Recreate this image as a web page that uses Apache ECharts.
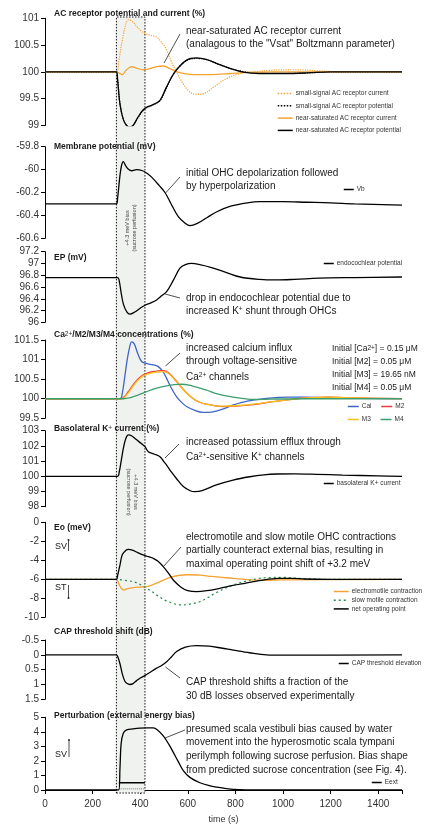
<!DOCTYPE html>
<html>
<head>
<meta charset="utf-8">
<script src="https://cdn.jsdelivr.net/npm/echarts@6/dist/echarts.min.js"></script>
<style>
html, body { margin: 0; padding: 0; background: #fff; }
#chart { width: 428px; height: 825px; }
</style>
</head>
<body>
<div id="chart"></div>
<script>
// perfusion window (s)
const perfusionWindow = [300, 420];

// panel 1 - AC receptor potential and current (%)
const tNsPot = [0, 300, 305, 315, 330, 345, 357, 370, 390, 410, 427, 450, 483, 511, 546, 595, 637, 680, 720, 780, 840, 900, 1000, 1100, 1200, 1500];
const vNsPot = [100, 100, 99.85, 99.4, 99.1, 98.99, 98.97, 99.0, 99.15, 99.28, 99.34, 99.38, 99.47, 99.72, 100.0, 100.22, 100.26, 100.23, 100.16, 100.06, 99.99, 99.97, 99.97, 99.98, 100, 100];
const vSsPot = [100, 100, 99.86, 99.41, 99.1, 98.99, 98.97, 99.0, 99.14, 99.27, 99.33, 99.38, 99.46, 99.71, 100.0, 100.21, 100.25, 100.23, 100.16, 100.06, 100.0, 99.97, 99.97, 99.98, 100, 100];
const tSsCur = [0, 300, 310, 325, 340, 350, 365, 385, 405, 420, 445, 469, 490, 510, 530, 553, 580, 610, 637, 670, 710, 760, 820, 875, 950, 1050, 1150, 1250, 1500];
const vSsCur = [100, 100, 100.2, 100.6, 100.9, 100.97, 100.95, 100.85, 100.76, 100.72, 100.68, 100.65, 100.55, 100.42, 100.2, 100.0, 99.78, 99.62, 99.58, 99.6, 99.72, 99.87, 99.97, 100.0, 100.03, 100.04, 100.02, 100, 100];
const tNsCur = [0, 300, 310, 326, 340, 364, 385, 412, 440, 470, 497, 530, 570, 625, 700, 780, 850, 950, 1500];
const vNsCur = [100, 100, 99.98, 99.95, 100.03, 100.1, 100.07, 100.04, 100.06, 100.1, 100.11, 100.05, 99.98, 99.95, 99.95, 99.97, 99.99, 100, 100];

// panel 2 - membrane potential (mV)
const tVb = [0, 300, 305, 315, 322, 329, 340, 352, 364, 385, 410, 427, 450, 480, 504, 530, 560, 590, 609, 640, 680, 720, 780, 850, 903, 1000, 1100, 1200, 1300, 1500];
const vVb = [-60.3, -60.3, -60.25, -60.05, -59.96, -59.93, -59.97, -60.0, -60.01, -60.0, -60.01, -60.03, -60.07, -60.14, -60.2, -60.3, -60.41, -60.47, -60.49, -60.47, -60.42, -60.37, -60.32, -60.29, -60.28, -60.28, -60.285, -60.29, -60.3, -60.31];

// panel 3 - EP (mV)
const tEp = [0, 305, 312, 320, 330, 345, 357, 375, 400, 420, 445, 469, 490, 511, 540, 567, 590, 616, 650, 700, 760, 820, 900, 973, 1050, 1150, 1300, 1500];
const vEp = [96.76, 96.76, 96.7, 96.5, 96.3, 96.17, 96.14, 96.17, 96.24, 96.29, 96.33, 96.38, 96.45, 96.52, 96.72, 96.92, 96.98, 97.0, 96.98, 96.93, 96.85, 96.77, 96.73, 96.72, 96.73, 96.75, 96.76, 96.77];

// panel 4 - Ca2+/M2/M3/M4 (%)
const tCai = [0, 315, 325, 335, 345, 355, 364, 375, 390, 406, 425, 441, 460, 476, 495, 511, 530, 553, 575, 595, 630, 665, 700, 750, 791, 850, 931, 1029, 1100, 1200, 1500];
const vCai = [100, 100, 100.15, 100.55, 100.98, 101.3, 101.45, 101.4, 101.15, 100.95, 100.9, 100.88, 100.86, 100.82, 100.7, 100.52, 100.28, 100.05, 99.9, 99.8, 99.7, 99.65, 99.66, 99.74, 99.84, 99.94, 100.01, 100.04, 100.04, 100.02, 100];
const tM = [0, 320, 335, 350, 370, 390, 410, 427, 450, 475, 497, 520, 553, 590, 623, 650, 679, 715, 749, 800, 875, 950, 1001, 1100, 1190, 1300, 1500];
const vM2 = [100, 100, 100.06, 100.18, 100.35, 100.5, 100.6, 100.65, 100.69, 100.71, 100.72, 100.66, 100.44, 100.18, 100.0, 99.91, 99.86, 99.82, 99.8, 99.81, 99.85, 99.92, 99.96, 100.02, 100.04, 100.02, 100];
const vM3 = [100, 100, 100.04, 100.15, 100.32, 100.47, 100.57, 100.62, 100.66, 100.68, 100.69, 100.64, 100.43, 100.17, 100.0, 99.91, 99.86, 99.82, 99.81, 99.82, 99.86, 99.92, 99.96, 100.02, 100.04, 100.02, 100];
const tM4 = [0, 330, 360, 390, 427, 470, 511, 545, 574, 610, 650, 679, 720, 791, 875, 950, 1100, 1500];
const vM4 = [100, 100, 100.03, 100.09, 100.18, 100.27, 100.33, 100.36, 100.37, 100.34, 100.27, 100.22, 100.13, 100.04, 99.98, 99.99, 100, 100];

// panel 5 - basolateral K+ current (%)
const tK = [0, 305, 312, 320, 330, 340, 350, 365, 385, 405, 420, 434, 460, 483, 500, 511, 530, 553, 580, 610, 630, 660, 720, 790, 860, 920, 973, 1050, 1141, 1250, 1400, 1500];
const vK = [100, 100, 100.3, 101.0, 101.9, 102.5, 102.72, 102.65, 102.4, 102.15, 101.95, 101.62, 101.45, 101.29, 100.95, 100.74, 100.3, 99.84, 99.35, 99.05, 98.99, 99.05, 99.43, 99.75, 99.97, 100.1, 100.15, 100.16, 100.13, 100.08, 100.03, 100.0];

// panel 6 - Eo (meV)
const tEm = [0, 300, 310, 322, 332, 345, 371, 400, 427, 455, 483, 520, 560, 600, 651, 700, 791, 860, 931, 1000, 1500];
const vEm = [-6, -6, -6.5, -7.0, -7.13, -7.0, -6.87, -6.82, -6.78, -6.55, -6.25, -5.85, -5.6, -5.52, -5.55, -5.7, -5.9, -6.05, -6.1, -6.05, -6.0];
const tSlow = [0, 300, 330, 371, 400, 427, 450, 469, 500, 540, 567, 600, 651, 679, 720, 791, 860, 931, 1000, 1092, 1200, 1500];
const vSlow = [-6, -6, -6.1, -6.25, -6.55, -6.95, -7.3, -7.65, -8.15, -8.55, -8.7, -8.65, -8.36, -8.0, -7.4, -6.6, -6.1, -5.83, -5.8, -5.95, -6, -6];
const tNet = [0, 300, 305, 315, 325, 340, 350, 370, 390, 412, 435, 455, 475, 497, 520, 539, 570, 600, 637, 680, 734, 790, 840, 900, 980, 1040, 1092, 1200, 1500];
const vNet = [-6, -6, -5.6, -4.5, -3.4, -2.95, -2.84, -2.95, -3.2, -3.44, -3.62, -3.79, -4.1, -4.67, -5.4, -6.07, -6.8, -7.2, -7.3, -7.2, -6.95, -6.65, -6.42, -6.15, -5.9, -5.9, -5.97, -6.0, -6.0];

// panel 7 - CAP threshold shift (dB)
const tCap = [0, 300, 305, 315, 325, 335, 345, 357, 370, 385, 399, 420, 445, 469, 490, 511, 530, 553, 590, 637, 690, 740, 791, 860, 931, 1000, 1500];
const vCap = [0, 0, 0.05, 0.3, 0.65, 0.88, 0.97, 1.0, 0.97, 0.87, 0.79, 0.7, 0.57, 0.45, 0.36, 0.23, 0.08, -0.11, -0.26, -0.31, -0.29, -0.23, -0.16, -0.07, 0, 0.01, 0];

// panel 8 - perturbation (external energy bias)
const tExt = [0, 310, 315, 320, 329, 343, 370, 399, 430, 455, 475, 497, 520, 539, 560, 581, 610, 651, 690, 720, 770, 820, 900, 1500];
const vExt = [0, 0, 1.5, 3.2, 3.91, 4.13, 4.2, 4.25, 4.27, 4.27, 4.1, 3.72, 3.15, 2.59, 1.95, 1.34, 0.85, 0.5, 0.3, 0.2, 0.08, 0.03, 0, 0];
const tBar = [310, 420];
const vBar = [0.5, 0.5];
const vBarLow = [0.08, 0.08];

// y axis ranges per panel: [min, max, interval]
const yRanges = [[99, 101, 0.5], [-60.6, -59.8, 0.2], [96, 97.2, 0.2], [99.5, 101.5, 0.5],
                 [98, 103, 1], [-10, 0, 2], [-0.5, 1.5, 0.5], [0, 5, 1]];
const xTicks = [0, 1500, 200];

const FONT = 'Liberation Sans, Arial, sans-serif';
const pairs = (t, v) => t.map((x, i) => [x, v[i]]);

const chart = echarts.init(document.getElementById('chart'), null, { renderer: 'canvas' });

// plot rows (top, height) in px
const rows = [[17, 776], [18.3, 107.2], [146.7, 91.6], [251.7, 70.6], [340, 78.3],
              [430.7, 76], [522.3, 95], [640, 59.3], [717.3, 73.4]];
const grid = rows.map(r => ({ left: 45, width: 357, top: r[0], height: r[1] }));

const xAxis = rows.map((r, i) => {
    const last = i === rows.length - 1;
    return {
        gridIndex: i, type: 'value', min: xTicks[0], max: xTicks[1], interval: xTicks[2],
        show: last,
        name: last ? 'time (s)' : '', nameLocation: 'middle', nameGap: 25,
        nameTextStyle: { fontSize: 9, color: '#333', fontFamily: FONT },
        axisLine: { show: true, lineStyle: { color: '#000', width: 1 } },
        axisTick: { show: true, length: 4, lineStyle: { color: '#000' } },
        axisLabel: { fontSize: 10, color: '#333', margin: 9, fontFamily: FONT,
            formatter: v => (v % 200 === 0 ? String(v) : '') },
        splitLine: { show: false }
    };
});

const yAxis = rows.map((r, i) => {
    if (i === 0) return { gridIndex: 0, type: 'value', min: 0, max: 1, show: false };
    const yr = yRanges[i - 1];
    return {
        gridIndex: i, type: 'value', min: yr[0], max: yr[1], interval: yr[2],
        inverse: i === 7,
        axisLine: { show: true, lineStyle: { color: '#000', width: 1 } },
        axisTick: { show: true, length: 4, lineStyle: { color: '#000' } },
        axisLabel: { fontSize: 10, color: '#333', margin: 6, fontFamily: FONT },
        splitLine: { show: false }
    };
});

const ORANGE = '#f5a232';
function line(name, idx, data, color, opts) {
    opts = opts || {};
    return {
        name: name, type: 'line', xAxisIndex: idx, yAxisIndex: idx,
        data: data, symbol: 'none', smooth: 0.35, z: 3,
        lineStyle: { color: color, width: opts.width || 1.3, type: opts.type || 'solid' },
        itemStyle: { color: color }
    };
}

const series = [
    {
        name: 'window', type: 'line', xAxisIndex: 0, yAxisIndex: 0, data: [], z: 1,
        markArea: {
            silent: true,
            itemStyle: { color: '#f0f2f0', opacity: 1, borderColor: '#111', borderWidth: 1, borderType: [1.5, 1.5] },
            data: [[{ xAxis: perfusionWindow[0] }, { xAxis: perfusionWindow[1] }]]
        }
    },
    line('small-signal AC receptor current', 1, pairs(tSsCur, vSsCur), ORANGE, { type: 'dotted', width: 1.2 }),
    line('small-signal AC receptor potential', 1, pairs(tNsPot, vSsPot), '#000', { type: 'dotted', width: 1.2 }),
    line('near-saturated AC receptor current', 1, pairs(tNsCur, vNsCur), ORANGE),
    line('near-saturated AC receptor potential', 1, pairs(tNsPot, vNsPot), '#000'),
    line('Vb', 2, pairs(tVb, vVb), '#000'),
    line('endocochlear potential', 3, pairs(tEp, vEp), '#000'),
    line('Cai', 4, pairs(tCai, vCai), '#3f65c6'),
    line('M2', 4, pairs(tM, vM2), '#ee3b3b'),
    line('M3', 4, pairs(tM, vM3), '#f7c21d'),
    line('M4', 4, pairs(tM4, vM4), '#3d9e6e'),
    line('basolateral K+ current', 5, pairs(tK, vK), '#000'),
    line('electromotile contraction', 6, pairs(tEm, vEm), ORANGE),
    line('slow motile contraction', 6, pairs(tSlow, vSlow), '#1f8b4c', { type: [2, 3], width: 1.2 }),
    line('net operating point', 6, pairs(tNet, vNet), '#000'),
    line('CAP threshold elevation', 7, pairs(tCap, vCap), '#000'),
    line('perfusion', 8, pairs(tBar, vBar), '#000', { width: 1.5 }),
    line('perfusion low', 8, pairs(tBar, vBarLow), '#777', { type: 'dotted', width: 1 }),
    line('Eext', 8, pairs(tExt, vExt), '#000')
];

function legend(names, left, top, opts) {
    opts = opts || {};
    return {
        data: names, left: left, top: top, orient: opts.orient || 'vertical',
        itemWidth: opts.w || 10, itemHeight: 8, itemGap: opts.gap === undefined ? 4 : opts.gap,
        selectedMode: false, padding: 0,
        itemStyle: { opacity: 0 },
        lineStyle: { width: 1.5 },
        textStyle: { fontSize: 6.5, color: '#333', fontFamily: FONT, padding: [0, 0, 0, -2] }
    };
}
const legends = [
    legend(['small-signal AC receptor current', 'small-signal AC receptor potential',
            'near-saturated AC receptor current', 'near-saturated AC receptor potential'], 277, 90, { w: 15, gap: 5.3 }),
    legend(['Vb'], 343, 186),
    legend(['endocochlear potential'], 323, 260),
    legend(['Cai', 'M2'], 347, 403, { orient: 'horizontal', w: 11, gap: 9 }),
    legend(['M3', 'M4'], 347, 416, { orient: 'horizontal', w: 11, gap: 9 }),
    legend(['basolateral K+ current'], 323, 480),
    legend(['electromotile contraction', 'slow motile contraction', 'net operating point'], 333, 588, { w: 15, gap: 1.7 }),
    legend(['CAP threshold elevation'], 338, 660),
    legend(['Eext'], 371, 779)
];

// annotation text
const TXT = '#1a1a1a';
const sup = { s: { fontSize: 6.5, verticalAlign: 'top', fill: TXT, fontFamily: FONT } };
function txt(x, y, text, size, bold) {
    return {
        type: 'text', x: x, y: y, silent: true, z: 100,
        style: {
            text: text, fontSize: size || 10, fontWeight: bold ? 'bold' : 'normal',
            fontFamily: FONT, fill: TXT, verticalAlign: 'middle', align: 'left', rich: sup
        }
    };
}
function lead(x1, y1, x2, y2) {
    return { type: 'line', silent: true, z: 100, shape: { x1: x1, y1: y1, x2: x2, y2: y2 },
             style: { stroke: '#222', lineWidth: 0.8 } };
}
function dot(x, y) {
    return { type: 'circle', silent: true, z: 100, shape: { cx: x, cy: y, r: 1 }, style: { fill: '#222' } };
}

const titles = [
    [54, 14, 'AC receptor potential and current (%)'],
    [54, 147, 'Membrane potential (mV)'],
    [54, 258, 'EP (mV)'],
    [54, 335, 'Ca{s|2+}/M2/M3/M4 concentrations (%)'],
    [54, 429, 'Basolateral K{s|+} current (%)'],
    [54, 528, 'Eo (meV)'],
    [54, 632, 'CAP threshold shift (dB)'],
    [54, 716, 'Perturbation (external energy bias)']
];
const notes = [
    [31, 'near-saturated AC receptor current'], [44, '(analagous to the "Vsat" Boltzmann parameter)'],
    [173, 'initial OHC depolarization followed'], [186, 'by hyperpolarization'],
    [298, 'drop in endocochlear potential due to'], [311, 'increased K{s|+} shunt through OHCs'],
    [348.5, 'increased calcium influx'], [361.5, 'through voltage-sensitive'], [377, 'Ca{s|2+} channels'],
    [442, 'increased potassium efflux through'], [457, 'Ca{s|2+}-sensitive K{s|+} channels'],
    [537, 'electromotile and slow motile OHC contractions'], [550.5, 'partially counteract external bias, resulting in'],
    [564, 'maximal operating point shift of +3.2 meV'],
    [682, 'CAP threshold shifts a fraction of the'], [696.5, '30 dB losses observed experimentally'],
    [729, 'presumed scala vestibuli bias caused by water'], [742.5, 'movement into the hyperosmotic scala tympani'],
    [756, 'perilymph following sucrose perfusion. Bias shape'], [770, 'from predicted sucrose concentration (see Fig. 4).']
];
const initials = [
    [349, 'Initial [Ca{s|2+}] = 0.15 μM'], [362, 'Initial [M2] = 0.05 μM'],
    [375, 'Initial [M3] = 19.65 nM'], [388, 'Initial [M4] = 0.05 μM']
];

const graphic = [];
titles.forEach(t => graphic.push(txt(t[0], t[1], t[2], 8.5, true)));
notes.forEach(n => graphic.push(txt(186, n[0], n[1], 10)));
initials.forEach(n => graphic.push(txt(332, n[0], n[1], 8.5)));
graphic.push(
    lead(180, 34, 164, 63), lead(180, 177, 165.5, 193), lead(180, 298, 165, 294),
    lead(180, 353, 165.5, 366), lead(179, 444, 165, 458), lead(181, 547, 163, 567),
    lead(180, 678, 165.5, 667), lead(185, 730, 165, 738),
    // SV / ST bias direction marks
    txt(55, 547, 'SV', 9), lead(68.5, 540, 68.5, 551), dot(68.5, 540),
    txt(55, 588, 'ST', 9), lead(68.5, 585, 68.5, 598), dot(68.5, 598),
    txt(55, 755, 'SV', 9), lead(69, 740, 69, 757), dot(69, 740),
    {
        type: 'text', x: 131, y: 228, rotation: Math.PI / 2, silent: true, z: 100,
        style: { text: '+4.3 meV bias\n(sucrose perfusion)', fontSize: 5.5, fontFamily: FONT,
                 fill: '#444', align: 'center', verticalAlign: 'middle', lineHeight: 7 }
    },
    {
        type: 'text', x: 132, y: 492, rotation: -Math.PI / 2, silent: true, z: 100,
        style: { text: '+4.3 meV bias\n(sucrose perfusion)', fontSize: 5.5, fontFamily: FONT,
                 fill: '#444', align: 'center', verticalAlign: 'middle', lineHeight: 7 }
    }
);

chart.setOption({
    animation: false,
    backgroundColor: '#fff',
    textStyle: { fontFamily: FONT },
    grid: grid,
    xAxis: xAxis,
    yAxis: yAxis,
    legend: legends,
    series: series,
    graphic: graphic
});
</script>
</body>
</html>
